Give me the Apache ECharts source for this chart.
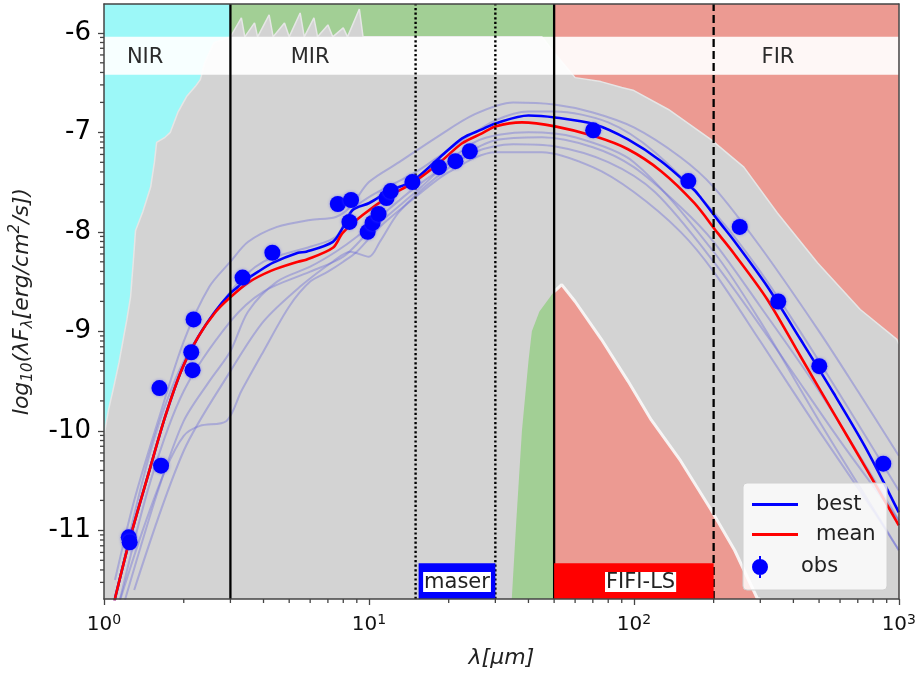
<!DOCTYPE html>
<html>
<head>
<meta charset="utf-8">
<script src="https://cdn.jsdelivr.net/npm/echarts@6/dist/echarts.min.js"></script>
<style>html,body{margin:0;padding:0;background:#fff;}#c{width:919px;height:675px;}</style>
</head>
<body>
<div id="c"></div>
<script>
// ---------- axis ranges / ticks ----------
const xMin = 1, xMax = 1000;
const yMin = -11.69, yMax = -5.71;
const yMajorTicks = [-11, -10, -9, -8, -7, -6];
const yMinorBases = [-12, -11, -10, -9, -8, -7, -6];
const yMinorFrac = [0.301, 0.477, 0.602, 0.699, 0.778, 0.845, 0.903, 0.954];
const xMinorTicks = [2,3,4,5,6,7,8,9,20,30,40,50,60,70,80,90,200,300,400,500,600,700,800,900];

// ---------- wavelength bands ----------
const bandNames = ['NIR', 'MIR', 'FIR'];
const bandStart = [1, 3, 50];
const bandEnd = [3, 50, 1000];
const bandColors = ['#9cf8f8', '#a2cf95', '#ec9a92'];
const bandLabelX = [1.43, 6.0, 350];
const labelBandLow = -6.42, labelBandHigh = -6.04, labelBandMid = -6.245;

// ---------- instrument boxes ----------
const instNames = ['maser', 'FIFI-LS'];
const instStart = [15.4, 50];
const instEnd = [30, 200];
const instTop = -11.33;
const instColors = ['#0000ff', '#ff0000'];
const instLabelX = [21.5, 106];
const instLabelY = -11.52;

// ---------- vertical lines ----------
const vlineX = [3, 50, 15, 30, 200];
const vlineKind = ['solid', 'solid', 'dotted', 'dotted', 'dashed'];

// ---------- model envelope (grey) ----------
const envelopeUpper = [[1.0,-10.05],[1.04,-9.79],[1.09,-9.55],[1.14,-9.31],[1.22,-8.88],[1.26,-8.65],[1.29,-8.3],[1.315,-7.99],[1.4,-7.8],[1.5,-7.55],[1.55,-7.3],[1.58,-7.1],[1.7,-7.05],[1.78,-7.0],[1.9,-6.8],[2.05,-6.64],[2.21,-6.54],[2.31,-6.47],[2.4,-6.3],[2.6,-6.1],[3.0,-6.04],[3.3,-5.85],[3.4,-6.04],[3.7,-5.9],[3.8,-6.04],[4.2,-5.82],[4.35,-6.04],[4.8,-5.9],[5.0,-6.04],[5.5,-5.8],[5.7,-6.04],[6.2,-5.85],[6.4,-6.04],[7.0,-5.92],[7.3,-6.04],[8.0,-5.95],[8.3,-6.04],[9.2,-5.76],[9.5,-6.04],[12,-6.04],[20,-6.04],[30,-6.04],[45,-6.04],[50,-6.2],[60,-6.45],[75,-6.49],[90,-6.55],[100,-6.58],[135,-6.77],[195,-7.07],[260,-7.35],[348,-7.81],[493,-8.31],[715,-8.78],[983,-9.08],[1000,-9.13]];
const envelopeLowMIR = [[33,-11.69],[34.6,-11.69],[36,-10.9],[37.8,-10.0],[40,-9.3],[41.2,-9.0],[44,-8.8],[46.9,-8.7],[50,-8.6]];
const envelopeLowFIR = [[50,-8.6],[53.4,-8.53],[60,-8.7],[75.4,-9.08],[95,-9.5],[116.3,-9.89],[150,-10.3],[195.3,-10.79],[240,-11.2],[293,-11.69],[300,-11.69]];

// ---------- SED curves ----------
const meanSED = [[1.09,-11.75],[1.106,-11.66],[1.26,-11.06],[1.476,-10.42],[1.705,-9.85],[1.968,-9.38],[2.274,-9.05],[2.627,-8.81],[2.99,-8.66],[3.503,-8.51],[4.286,-8.39],[5.4,-8.30],[5.8,-8.28],[7.31,-8.16],[7.96,-8.01],[9.47,-7.83],[11.93,-7.64],[14.59,-7.51],[18.38,-7.31],[22.48,-7.11],[26.7,-7.01],[30,-6.94],[37.8,-6.90],[50.4,-6.94],[71.2,-7.04],[95,-7.17],[126.7,-7.39],[169,-7.71],[206.9,-8.01],[238.9,-8.22],[318.9,-8.68],[425.2,-9.25],[567.1,-9.82],[756.9,-10.39],[1000,-10.95]];
const bestSED = [[1.09,-11.75],[1.106,-11.66],[1.26,-11.06],[1.476,-10.42],[1.705,-9.85],[1.968,-9.38],[2.274,-9.05],[2.627,-8.80],[2.99,-8.62],[3.213,-8.55],[3.356,-8.50],[3.82,-8.40],[4.35,-8.31],[5.4,-8.21],[5.8,-8.20],[7.31,-8.10],[7.96,-7.96],[8.68,-7.78],[10.03,-7.71],[11.93,-7.59],[14.59,-7.49],[18.38,-7.26],[22.48,-7.06],[26.7,-6.97],[30,-6.91],[40,-6.83],[50.4,-6.85],[71.2,-6.92],[95,-7.07],[126.7,-7.29],[169,-7.58],[179.1,-7.66],[212.9,-7.92],[238.9,-8.09],[318.9,-8.55],[425.2,-9.08],[567.1,-9.62],[756.9,-10.19],[1000,-10.82]];
const modelA = [[1.1,-11.5],[1.3,-10.7],[1.6,-9.9],[2.0,-9.1],[2.5,-8.55],[3.0,-8.3],[3.5,-8.1],[4.5,-7.95],[6,-7.88],[7.5,-7.85],[8.5,-7.75],[10,-7.5],[13,-7.3],[18,-7.05],[25,-6.82],[35,-6.7],[50,-6.72],[70,-6.8],[100,-6.95],[150,-7.25],[200,-7.55],[300,-8.15],[500,-9.0],[700,-9.6],[1000,-10.25]];
const modelB = [[1.15,-11.7],[1.4,-11.0],[1.7,-10.4],[2.0,-10.05],[2.3,-9.95],[2.9,-9.9],[3.3,-9.6],[4.0,-9.2],[5,-8.75],[6,-8.5],[7,-8.4],[8,-8.3],[9,-8.2],[11,-7.95],[15,-7.65],[20,-7.4],[30,-7.2],[45,-7.2],[70,-7.35],[100,-7.6],[150,-8.0],[200,-8.4],[300,-9.1],[500,-10.0],[800,-10.8],[1000,-11.2]];
const modelC = [[1.1,-11.7],[1.5,-10.2],[2,-9.3],[3,-8.6],[4,-8.3],[6,-8.15],[7.5,-8.05],[8.5,-7.8],[10,-7.65],[15,-7.4],[22,-7.1],[30,-6.88],[40,-6.79],[50,-6.79],[80,-6.9],[120,-7.2],[200,-7.8],[300,-8.4],[500,-9.3],[1000,-10.6]];
const modelD = [[1.2,-11.7],[1.6,-10.6],[2,-9.9],[2.5,-9.5],[3,-9.2],[3.5,-8.8],[4.5,-8.5],[6,-8.35],[7.5,-8.2],[9,-8.05],[11,-7.85],[15,-7.55],[22,-7.25],[30,-7.08],[45,-7.05],[70,-7.15],[100,-7.35],[150,-7.75],[200,-8.1],[300,-8.75],[500,-9.6],[1000,-10.9]];
const modelE = [[1.15,-11.69],[1.5,-10.5],[2,-9.6],[3,-8.9],[4,-8.6],[6,-8.4],[8,-8.25],[10,-8.0],[15,-7.6],[25,-7.1],[40,-7.0],[60,-7.05],[100,-7.3],[200,-8.2],[300,-8.9],[500,-9.9],[900,-11.0],[1000,-11.2]];
const modelF = [[1.3,-11.6],[2,-10.2],[3,-9.4],[4,-8.9],[5.5,-8.55],[7.3,-8.3],[8.5,-8.2],[10,-8.25],[11,-8.1],[13,-7.8],[18,-7.45],[25,-7.2],[35,-7.12],[50,-7.14],[80,-7.3],[120,-7.6],[200,-8.3],[350,-9.2],[600,-10.1],[1000,-10.9]];
const faintModels = [modelA, modelB, modelC, modelD, modelE, modelF];

// ---------- observations ----------
const obsWave = [1.24,1.25,1.619,1.642,2.135,2.159,2.178,3.335,4.32,7.63,8.56,8.44,9.89,10.32,10.87,11.65,12.09,14.59,18.38,21.2,24.03,70.2,160.5,250.9,350.7,501,873.7];
const obsFlux = [-11.07,-11.12,-9.57,-10.35,-9.21,-9.39,-8.88,-8.46,-8.21,-7.72,-7.68,-7.90,-8.00,-7.91,-7.82,-7.66,-7.59,-7.50,-7.35,-7.29,-7.19,-6.98,-7.49,-7.95,-8.70,-9.35,-10.33];

// ---------- build ----------
const FONT = 'DejaVu Sans';
const yMinorTicks = [];
yMinorBases.forEach(b => yMinorFrac.forEach(f => {
  const v = +(b + f).toFixed(3);
  if (v > yMin && v < yMax) yMinorTicks.push(v);
}));

function rectItem(color) {
  return function (params, api) {
    const p0 = api.coord([api.value(0), api.value(3)]);
    const p1 = api.coord([api.value(1), api.value(2)]);
    return {
      type: 'rect',
      shape: { x: p0[0], y: p0[1], width: p1[0] - p0[0], height: p1[1] - p0[1] },
      style: { fill: typeof color === 'function' ? color(params.dataIndex) : color }
    };
  };
}

const series = [];
series.push({
  type: 'custom', name: 'bands', z: 1, silent: true,
  renderItem: rectItem(i => bandColors[i]),
  data: bandStart.map((s, i) => [s, bandEnd[i], yMin, yMax])
});
series.push({
  type: 'line', name: 'envelope', z: 2, silent: true, showSymbol: false,
  data: envelopeUpper,
  lineStyle: { color: '#e6e6e6', width: 1.5 },
  areaStyle: { color: '#d3d3d3', opacity: 1, origin: 'start' }
});
series.push({
  type: 'line', name: 'lowMIR', z: 3, silent: true, showSymbol: false,
  data: envelopeLowMIR,
  lineStyle: { width: 0 },
  areaStyle: { color: bandColors[1], opacity: 1, origin: 'start' }
});
series.push({
  type: 'line', name: 'lowFIR', z: 3, silent: true, showSymbol: false,
  data: envelopeLowFIR,
  lineStyle: { color: 'rgba(250,250,250,0.9)', width: 3 },
  areaStyle: { color: bandColors[2], opacity: 1, origin: 'start' }
});
series.push({
  type: 'custom', name: 'labelBand', z: 4, silent: true,
  renderItem: rectItem('rgba(255,255,255,0.92)'),
  data: [[xMin, xMax, labelBandLow, labelBandHigh]]
});
series.push({
  type: 'scatter', name: 'bandLabels', z: 5, silent: true, symbolSize: 0,
  itemStyle: { opacity: 1 },
  data: bandNames.map((n, i) => ({ name: n, value: [bandLabelX[i], labelBandMid] })),
  label: { show: true, position: 'inside', formatter: '{b}', color: '#2b2b2b', fontSize: 21, fontFamily: FONT }
});
faintModels.forEach((m, i) => {
  series.push({
    type: 'line', name: 'model' + i, z: 7, silent: true, showSymbol: false, smooth: 0.3,
    data: m,
    lineStyle: { color: 'rgba(100,100,215,0.38)', width: 2 }
  });
});
series.push({
  type: 'line', name: 'best', z: 8, showSymbol: false, smooth: 0.3,
  data: bestSED, color: '#0000ff',
  lineStyle: { color: '#0000ff', width: 2.6 }
});
series.push({
  type: 'line', name: 'mean', z: 9, showSymbol: false, smooth: 0.3,
  data: meanSED, color: '#ff0000',
  lineStyle: { color: '#ff0000', width: 2.6 }
});
vlineX.forEach((x, i) => {
  const t = vlineKind[i] === 'solid' ? 'solid' : (vlineKind[i] === 'dotted' ? [2.2, 2.4] : [8, 4]);
  series.push({
    type: 'line', name: 'v' + i, z: 10, silent: true, showSymbol: false,
    data: [[x, yMin], [x, yMax]],
    lineStyle: { color: '#000', width: vlineKind[i] === 'dotted' ? 2.4 : 2.3, type: t }
  });
});
series.push({
  type: 'scatter', name: 'obs', z: 11, symbolSize: 16, color: '#0000ff',
  data: obsWave.map((w, i) => [w, obsFlux[i]]),
  itemStyle: { color: '#0000ff', opacity: 1, shadowBlur: 3, shadowColor: 'rgba(80,80,255,0.6)' }
});
series.push({
  type: 'custom', name: 'instruments', z: 12, silent: true,
  renderItem: rectItem(i => instColors[i]),
  data: instStart.map((s, i) => [s, instEnd[i], yMin, instTop])
});
series.push({
  type: 'scatter', name: 'instLabels', z: 13, silent: true, symbolSize: 0,
  itemStyle: { opacity: 1 },
  data: instNames.map((n, i) => ({ name: n, value: [instLabelX[i], instLabelY] })),
  label: { show: true, position: 'inside', formatter: '{b}', color: '#222', fontSize: 21, fontFamily: FONT,
           backgroundColor: '#fff', padding: [0, 1, 0, 1], lineHeight: 20 }
});
series.push({
  type: 'scatter', name: 'xMinor', z: 30, silent: true, clip: false,
  symbol: 'rect', symbolSize: [1.3, 4], symbolOffset: [0, 2],
  itemStyle: { color: '#444', opacity: 1 },
  data: xMinorTicks.map(x => [x, yMin])
});
series.push({
  type: 'scatter', name: 'yMinor', z: 30, silent: true, clip: false,
  symbol: 'rect', symbolSize: [4, 1.3], symbolOffset: [-2, 0],
  itemStyle: { color: '#444', opacity: 1 },
  data: yMinorTicks.map(y => [xMin, y])
});

const axisColor = '#444';
const option = {
  animation: false,
  backgroundColor: '#fff',
  grid: { left: 100, right: 20, top: 4, bottom: 76, containLabel: false },
  xAxis: [{
    type: 'log', logBase: 10, min: xMin, max: xMax, z: 30,
    name: 'λ[μm]', nameLocation: 'middle', nameGap: 48,
    nameTextStyle: { fontSize: 22, fontStyle: 'italic', fontFamily: FONT, color: '#222' },
    axisLine: { show: true, lineStyle: { color: axisColor, width: 1.5 } },
    axisTick: { show: true, length: 6, lineStyle: { color: axisColor, width: 1.3 } },
    splitLine: { show: false }, minorTick: { show: false },
    axisLabel: {
      fontSize: 20, fontFamily: FONT, color: '#111', margin: 14, lineHeight: 24,
      formatter: v => '10{p|' + Math.round(Math.log10(v)) + '}',
      rich: { p: { fontSize: 14, fontFamily: FONT, color: '#111', verticalAlign: 'top', lineHeight: 14 } }
    }
  }, {
    type: 'log', logBase: 10, min: xMin, max: xMax, position: 'top', z: 30,
    axisLine: { show: true, lineStyle: { color: axisColor, width: 1.5 } },
    axisTick: { show: false }, axisLabel: { show: false }, splitLine: { show: false }
  }],
  yAxis: [{
    type: 'value', min: yMin, max: yMax, z: 30,
    name: '{i|log}{s|10}{i|(λF}{s|λ}{i|[erg/cm}{p|2}{i|/s])}',
    nameLocation: 'middle', nameRotate: 90, nameGap: 68,
    nameTextStyle: {
      rich: {
        i: { fontSize: 22, fontStyle: 'italic', fontFamily: FONT, color: '#222', lineHeight: 28 },
        s: { fontSize: 15, fontStyle: 'italic', fontFamily: FONT, color: '#222', lineHeight: 15, verticalAlign: 'bottom' },
        p: { fontSize: 15, fontStyle: 'italic', fontFamily: FONT, color: '#222', lineHeight: 15, verticalAlign: 'top' }
      }
    },
    axisLine: { show: true, lineStyle: { color: axisColor, width: 1.5 } },
    axisTick: { show: true, length: 6, customValues: yMajorTicks, lineStyle: { color: axisColor, width: 1.3 } },
    axisLabel: { customValues: yMajorTicks, fontSize: 26, fontFamily: FONT, color: '#000', margin: 13 },
    splitLine: { show: false }
  }, {
    type: 'value', min: yMin, max: yMax, position: 'right', z: 30,
    axisLine: { show: true, lineStyle: { color: axisColor, width: 1.5 } },
    axisTick: { show: false }, axisLabel: { show: false }, splitLine: { show: false }
  }],
  legend: [{
    data: [{ name: 'best', icon: 'rect' }], left: 752, top: 494, padding: 0, z: 60,
    itemWidth: 46, itemHeight: 3, selectedMode: false,
    textStyle: { fontSize: 21, fontFamily: FONT, color: '#222', padding: [0, 0, 0, 13] }
  }, {
    data: [{ name: 'mean', icon: 'rect' }], left: 752, top: 524, padding: 0, z: 60,
    itemWidth: 46, itemHeight: 3, selectedMode: false,
    textStyle: { fontSize: 21, fontFamily: FONT, color: '#222', padding: [0, 0, 0, 13] }
  }, {
    data: [{ name: 'obs', icon: 'path://M8,3 A8,8 0 1,1 8,19 A8,8 0 1,1 8,3 Z M7,0 L9,0 L9,22 L7,22 Z' }],
    left: 752, top: 556, padding: 0, z: 60,
    itemWidth: 46, itemHeight: 22, selectedMode: false,
    textStyle: { fontSize: 21, fontFamily: FONT, color: '#222', padding: [0, 0, 0, 13] }
  }],
  graphic: [{
    type: 'rect', z: 50, silent: true,
    shape: { x: 743, y: 483, width: 144, height: 107, r: 4 },
    style: { fill: 'rgba(255,255,255,0.82)', stroke: '#d0d0d0', lineWidth: 1 }
  }],
  series: series
};

const chart = echarts.init(document.getElementById('c'), null, { renderer: 'canvas' });
chart.setOption(option);
</script>
</body>
</html>
